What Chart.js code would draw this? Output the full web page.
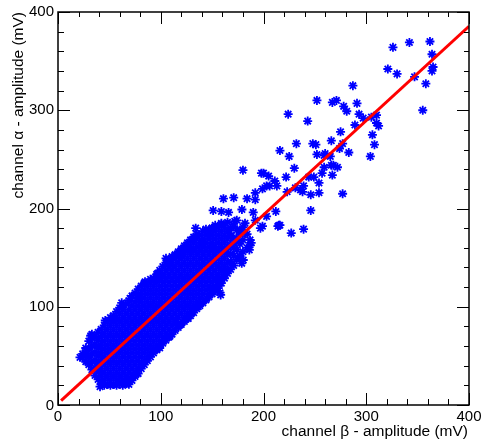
<!DOCTYPE html>
<html>
<head>
<meta charset="utf-8">
<script src="https://cdn.jsdelivr.net/npm/chart.js@4/dist/chart.umd.min.js"></script>
<style>
  html, body { margin: 0; padding: 0; background: #ffffff; }
  #wrap { width: 481px; height: 447px; }
</style>
</head>
<body>
<div id="wrap"><canvas id="c" width="481" height="447"></canvas></div>
<script>
// Axis ranges and tick labels (both axes share them)
const axisMin = 0;
const axisMax = 400;
const majorTicks = [0, 100, 200, 300, 400];
const tickLabels = ['0', '100', '200', '300', '400'];
const minorStep = 20;

const xTitle = 'channel \u03b2 - amplitude (mV)';
const yTitle = 'channel \u03b1 - amplitude (mV)';

// Dense core of events: each entry is [beta amplitude, [alpha amplitudes...]]
const coreColumns = [
  [24, [48, 52]],
  [27, [44, 52, 58]],
  [30, [41, 49, 57, 65]],
  [33, [36, 44, 52, 60, 68, 72]],
  [36, [30, 38, 46, 54, 62, 70]],
  [39, [26, 34, 42, 50, 58, 66, 74]],
  [42, [21, 29, 37, 45, 53, 61, 69, 77]],
  [45, [20, 25, 33, 41, 49, 57, 65, 73, 81]],
  [48, [21, 29, 37, 45, 53, 61, 69, 77, 85]],
  [51, [20, 25, 33, 41, 49, 57, 65, 73, 81, 89]],
  [54, [21, 29, 37, 45, 53, 61, 69, 77, 85, 91]],
  [57, [20, 25, 33, 41, 49, 57, 65, 73, 81, 89, 95]],
  [60, [22, 29, 37, 45, 53, 61, 69, 77, 85, 93, 99]],
  [63, [20, 25, 33, 41, 49, 57, 65, 73, 81, 89, 97, 101]],
  [66, [23, 29, 37, 45, 53, 61, 69, 77, 85, 93, 103]],
  [69, [21, 25, 33, 41, 49, 57, 65, 73, 81, 89, 97, 106]],
  [72, [25, 29, 37, 45, 53, 61, 69, 77, 85, 93, 101, 111]],
  [75, [29, 33, 41, 49, 57, 65, 73, 81, 89, 97, 105, 114]],
  [78, [32, 37, 45, 53, 61, 69, 77, 85, 93, 101, 109, 118]],
  [81, [37, 41, 49, 57, 65, 73, 81, 89, 97, 105, 113, 121]],
  [84, [41, 45, 53, 61, 69, 77, 85, 93, 101, 109, 117, 124]],
  [87, [45, 49, 57, 65, 73, 81, 89, 97, 105, 113, 121]],
  [90, [49, 53, 61, 69, 77, 85, 93, 101, 109, 117, 125, 128]],
  [93, [53, 57, 65, 73, 81, 89, 97, 105, 113, 121, 129]],
  [96, [56, 61, 69, 77, 85, 93, 101, 109, 117, 125, 133]],
  [99, [60, 65, 73, 81, 89, 97, 105, 113, 121, 129, 137]],
  [102, [63, 69, 77, 85, 93, 101, 109, 117, 125, 133, 141]],
  [105, [66, 73, 81, 89, 97, 105, 113, 121, 129, 137, 145]],
  [108, [69, 77, 85, 93, 101, 109, 117, 125, 133, 141, 148]],
  [111, [72, 81, 89, 97, 105, 113, 121, 129, 137, 145, 151]],
  [114, [76, 85, 93, 101, 109, 117, 125, 133, 141, 149, 153]],
  [117, [79, 89, 97, 105, 113, 121, 129, 137, 145, 153, 156]],
  [120, [82, 93, 101, 109, 117, 125, 133, 141, 149, 157, 159]],
  [123, [85, 89, 97, 105, 113, 121, 129, 137, 145, 153, 162]],
  [126, [88, 93, 101, 109, 117, 125, 133, 141, 149, 157, 165]],
  [129, [91, 97, 105, 113, 121, 129, 137, 145, 153, 161, 168]],
  [132, [94, 101, 109, 117, 125, 133, 141, 149, 157, 165, 171]],
  [135, [98, 105, 113, 121, 129, 137, 145, 153, 161, 169, 174]],
  [138, [101, 109, 117, 125, 133, 141, 149, 157, 165, 173]],
  [141, [104, 113, 121, 129, 137, 145, 153, 161, 169, 177]],
  [144, [107, 117, 125, 133, 141, 149, 157, 165, 173, 179]],
  [147, [110, 113, 121, 129, 137, 145, 153, 161, 169, 177]],
  [150, [113, 117, 125, 133, 141, 149, 157, 165, 173, 180]],
  [153, [116, 121, 129, 137, 145, 153, 161, 169, 177, 183]],
  [156, [119, 125, 133, 141, 149, 157, 165, 173, 181]],
  [159, [124, 129, 137, 145, 153, 161, 169, 177, 185]],
  [162, [129, 133, 141, 149, 157, 165, 173, 181]],
  [165, [134, 137, 145, 153, 161, 169, 177, 186]],
  [168, [138, 146, 154, 163, 172, 180]],
  [171, [142, 152, 160, 170, 182]],
  [174, [148, 158, 168, 178, 188]],
  [177, [152, 164, 174]],
  [180, [156, 168, 181]],
  [184, [160, 174]],
  [188, [165]]
];

// Events around the edge of the core
const edgeEvents = [
  [31.8, 70.5], [26.3, 53.2], [21.4, 48.5], [53.8, 86.5], [53.8, 88.2], [75.9, 31.6],
  [66.9, 22], [40.9, 18.7], [118.7, 81.4], [126.8, 88.2], [115.5, 84.8], [136.5, 100],
  [144.7, 108.6], [157.7, 114.3], [157.7, 123.9], [158.3, 112], [147.9, 118.8], [156, 127.2],
  [160.9, 137.4], [169, 144.2], [177.1, 151], [180.3, 147.6], [178.8, 144.2], [186.2, 157.8],
  [186.9, 162.8], [186.9, 168], [174, 168], [171, 165], [164, 158], [150, 160], [141, 165],
  [148, 173], [167, 175], [177, 178], [182, 175], [197, 180], [199, 182], [192, 188],
  [172, 187], [182, 185], [159, 184], [134, 180], [150, 180], [119.4, 152.7], [120.4, 154.4],
  [105.1, 149.3], [131.7, 168], [97, 134], [84.7, 125.5], [94.4, 127.2], [70.1, 108.6],
  [78.1, 108.6], [109, 142.5], [128.5, 158], [99, 58], [109, 70], [62, 104], [46, 86]
];

// Sparse events at mid amplitudes
const midEvents = [
  [224, 296], [232, 266], [216, 259], [225, 253], [180, 239], [200, 236], [205, 233],
  [230, 241], [222, 232], [211, 228], [206, 223], [213, 223], [199, 220], [244, 232],
  [249, 232], [254, 226], [239, 223], [236, 219], [254, 216], [277, 215], [192, 216],
  [171, 211], [161, 210], [184, 210], [192, 209], [151, 198], [159, 197], [166, 196],
  [216, 183], [227, 175], [239, 179], [246, 198], [198, 236], [203, 223], [223, 217],
  [231, 221], [238, 217], [246, 214], [179, 199], [190, 196], [203, 192], [212, 197],
  [215, 183], [214, 182]
];

// Sparse events at high amplitudes
const highEvents = [
  [326, 364], [342, 369], [362, 370], [364, 357], [365, 344], [364, 340], [321, 342],
  [330, 337], [347, 334], [358, 327], [287, 325], [355, 300], [252, 310], [267, 308],
  [271, 310], [291, 307], [278, 304], [281, 299], [243, 289], [293, 296], [297, 292],
  [305, 293], [310, 295], [310, 287], [312, 284], [289, 285], [275, 278], [306, 275],
  [308, 265], [266, 269], [248, 266], [251, 265], [277, 266], [274, 261], [283, 257],
  [252, 255], [265, 253], [304, 253], [259, 254], [266, 244], [267, 234], [257, 236],
  [260, 256], [268, 244], [272, 242], [259, 242]
];

// Linear fit endpoints
const fitBeta = [3, 400];
const fitAlpha = [4.4, 385.5];

const points = [];
coreColumns.forEach(([b, alphas]) => alphas.forEach(a => points.push({ x: b, y: a })));
[edgeEvents, midEvents, highEvents].forEach(list =>
  list.forEach(([b, a]) => points.push({ x: b, y: a })));
const fitPoints = fitBeta.map((b, i) => ({ x: b, y: fitAlpha[i] }));

// Frame, inward ticks, tick labels and axis titles in the classic ROOT look
const rootFrame = {
  id: 'rootFrame',
  afterDraw(chart) {
    const ctx = chart.ctx;
    const xs = chart.scales.x, ys = chart.scales.y;
    const a = chart.chartArea;
    ctx.save();
    ctx.strokeStyle = '#000000';
    ctx.lineWidth = 1.5;
    ctx.strokeRect(a.left, a.top, a.right - a.left, a.bottom - a.top);

    ctx.lineWidth = 1;
    ctx.beginPath();
    for (let v = axisMin; v <= axisMax; v += minorStep) {
      const major = majorTicks.includes(v);
      const len = major ? 12 : 6;
      const px = Math.round(xs.getPixelForValue(v)) + 0.5;
      const py = Math.round(ys.getPixelForValue(v)) + 0.5;
      // bottom and top
      ctx.moveTo(px, a.bottom); ctx.lineTo(px, a.bottom - len);
      ctx.moveTo(px, a.top); ctx.lineTo(px, a.top + (major ? 12 : 5));
      // left and right
      ctx.moveTo(a.left, py); ctx.lineTo(a.left + len, py);
      ctx.moveTo(a.right, py); ctx.lineTo(a.right - (major ? 12 : 5), py);
    }
    ctx.stroke();

    ctx.fillStyle = '#000000';
    ctx.font = '15px "Liberation Sans", Arial, sans-serif';
    ctx.textBaseline = 'middle';
    majorTicks.forEach((v, i) => {
      ctx.textAlign = 'center';
      ctx.fillText(tickLabels[i], xs.getPixelForValue(v), a.bottom + 12);
      ctx.textAlign = 'right';
      ctx.fillText(tickLabels[i], a.left - 4, ys.getPixelForValue(v) + (v === 0 ? 1 : 0));
    });

    ctx.font = '15.5px "Liberation Sans", Arial, sans-serif';
    ctx.textAlign = 'right';
    ctx.fillText(xTitle, a.right - 1, a.bottom + 27);
    ctx.translate(19, a.top);
    ctx.rotate(-Math.PI / 2);
    ctx.fillText(yTitle, 0, 0);
    ctx.restore();
  }
};

new Chart(document.getElementById('c'), {
  type: 'scatter',
  data: {
    datasets: [
      {
        label: 'fit',
        data: fitPoints,
        showLine: true,
        borderColor: '#ff0000',
        borderWidth: 3,
        pointRadius: 0,
        order: 0
      },
      {
        label: 'events',
        data: points,
        pointStyle: 'star',
        pointRadius: 4.5,
        borderColor: '#0000ff',
        backgroundColor: '#0000ff',
        borderWidth: 1.8,
        order: 1
      }
    ]
  },
  options: {
    responsive: false,
    animation: false,
    devicePixelRatio: 1,
    layout: { padding: { left: 58, right: 12, top: 12, bottom: 42 } },
    scales: {
      x: { type: 'linear', min: axisMin, max: axisMax, display: false },
      y: { type: 'linear', min: axisMin, max: axisMax, display: false }
    },
    plugins: { legend: { display: false }, tooltip: { enabled: false } },
    events: []
  },
  plugins: [rootFrame]
});
</script>
</body>
</html>
